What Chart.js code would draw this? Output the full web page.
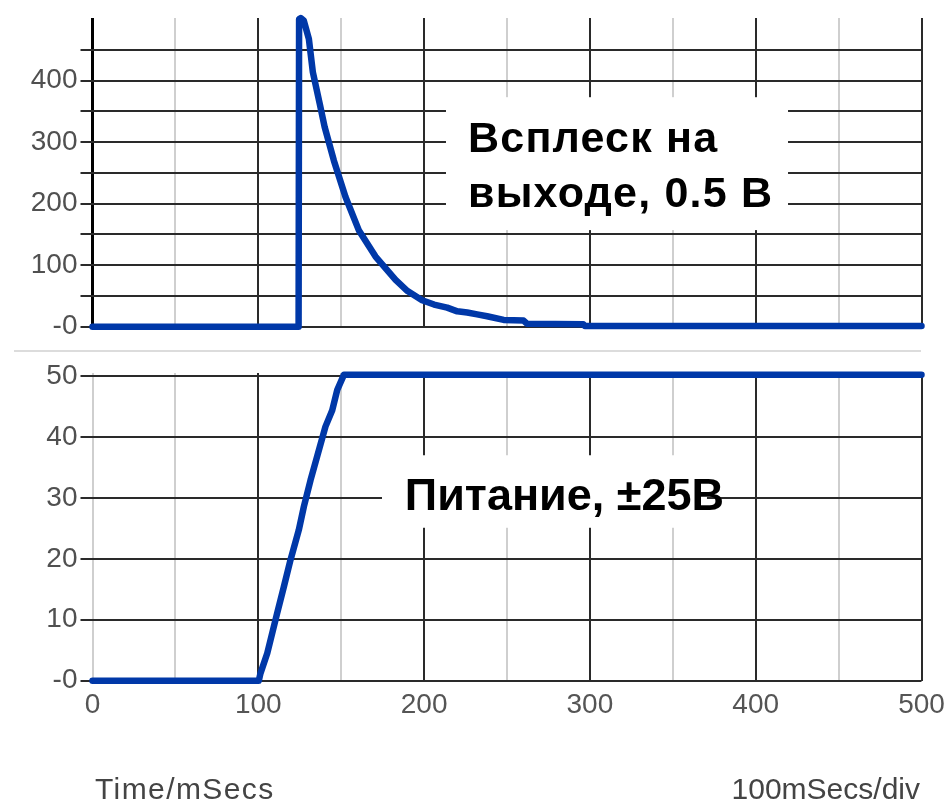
<!DOCTYPE html>
<html>
<head>
<meta charset="utf-8">
<script src="https://cdn.jsdelivr.net/npm/chart.js@4.4.1/dist/chart.umd.min.js"></script>
<style>
  html, body { margin: 0; padding: 0; background: #fff; }
  body { width: 946px; height: 805px; position: relative; overflow: hidden; }
  #wrapTop { position: absolute; left: 0; top: 0; width: 946px; height: 345px; }
  #wrapBot { position: absolute; left: 0; top: 355px; width: 946px; height: 450px; }
  #sep { position: absolute; left: 14px; top: 350px; width: 907px; height: 2px; background: #dcdcdc; }
  .foot { position: absolute; top: 772px; font-family: "Liberation Sans", Arial, sans-serif; font-size: 30px; color: #444; white-space: nowrap; }
  #footL { left: 95px; letter-spacing: 1.4px; }
  #footR { right: 26px; }
</style>
</head>
<body>
<div id="wrapTop"><canvas id="top"></canvas></div>
<div id="sep"></div>
<div id="wrapBot"><canvas id="bot"></canvas></div>
<div class="foot" id="footL">Time/mSecs</div>
<div class="foot" id="footR">100mSecs/div</div>
<script>
// ---- data ----
const spikeTime  = [0, 124.3, 124.6, 125.6, 127.4, 130.5, 132.9, 137.1, 140.0, 145.6, 152.6, 160.6, 170.7, 182.8, 190.0, 198.8, 206.0, 213.9, 220.0, 226.0, 232.0, 238.0, 248.0, 260.0, 262.0, 296.0, 297.0, 500];
const spikeValue = [0,   0,     500,   502,   498,   468,   414,   362,   325,   270,   211,   157,   114,   76,    58,    43,    36,    31,    25,    23,    20,    17,    11,    10,    5,     4,     1,     1];

const supplyTime  = [0, 100.3, 101.3, 105.4, 111.4, 115.4, 119.4, 124.4, 127.5, 131.5, 135.5, 140.5, 144.6, 147.6, 151.6, 500];
const supplyValue = [0, 0,     1.2,   4.5,   11.1,  15.4,  19.8,  24.7,  28.6,  32.9,  36.8,  41.7,  44.4,  47.7,  50.2,  50.2];

// grid positions and tick labels
const xTicks      = [0, 50, 100, 150, 200, 250, 300, 350, 400, 450, 500];
const xTickLabels = { 0: '0', 100: '100', 200: '200', 300: '300', 400: '400', 500: '500' };
const topYTicks   = [0, 50, 100, 150, 200, 250, 300, 350, 400, 450];
const topYLabels  = { 0: '-0', 100: '100', 200: '200', 300: '300', 400: '400' };
const botYTicks   = [0, 10, 20, 30, 40, 50];
const botYLabels  = { 0: '-0', 10: '10', 20: '20', 30: '30', 40: '40', 50: '50' };

const topNote = ['Всплеск на', 'выходе, 0.5 В'];
const botNote = ['Питание, ±25В'];

// ---- styling ----
const LINE_BLUE = '#0038a8';
const DARK = '#2a2a2a';
const LIGHT = '#cfcfcf';
const TICK_FONT = { family: '"Liberation Sans", Arial, sans-serif', size: 28 };
const NOTE_FAMILY = '"Liberation Sans", Arial, sans-serif';

const noteBoxPlugin = {
  id: 'noteBox',
  beforeDatasetsDraw(chart, args, opts) {
    if (!opts || !opts.box) return;
    const { ctx, scales } = chart;
    const xs = scales.x, ys = scales.y;
    const x0 = xs.getPixelForValue(opts.box[0]);
    const x1 = xs.getPixelForValue(opts.box[1]);
    const y0 = ys.getPixelForValue(opts.box[2]);
    const y1 = ys.getPixelForValue(opts.box[3]);
    ctx.save();
    ctx.fillStyle = '#ffffff';
    ctx.fillRect(x0, y0, x1 - x0, y1 - y0);
    ctx.fillStyle = '#000';
    ctx.font = 'bold ' + opts.size + 'px ' + NOTE_FAMILY;
    if ('letterSpacing' in ctx) ctx.letterSpacing = (opts.spacing || 0) + 'px';
    ctx.textBaseline = 'alphabetic';
    ctx.textAlign = 'left';
    const tx = xs.getPixelForValue(opts.textX);
    opts.lines.forEach((ln, i) => {
      ctx.fillText(ln, tx, ys.getPixelForValue(opts.textY[i]));
    });
    ctx.restore();
  }
};

function toPoints(xsArr, ysArr) { return xsArr.map((x, i) => ({ x: x, y: ysArr[i] })); }

function xScale(showLabels, zeroColor, zeroWidth, height) {
  return {
    type: 'linear', min: 0, max: 500,
    border: { display: false },
    afterBuildTicks: s => { s.ticks = xTicks.map(v => ({ value: v })); },
    grid: {
      drawTicks: false,
      color: c => (c.tick.value === 0 ? zeroColor : (c.tick.value % 100 === 0 ? DARK : LIGHT)),
      lineWidth: c => (c.tick.value === 0 ? zeroWidth : 2)
    },
    ticks: {
      display: showLabels, autoSkip: false, maxRotation: 0,
      padding: 8, color: '#555', font: TICK_FONT,
      callback: v => (xTickLabels[v] !== undefined ? xTickLabels[v] : '')
    },
    afterFit: s => { s.height = height; s.paddingLeft = 0; s.paddingRight = 0; }
  };
}

function yScale(max, tickVals, labels) {
  return {
    type: 'linear', min: 0, max: max,
    border: { display: false },
    afterBuildTicks: s => { s.ticks = tickVals.map(v => ({ value: v })); },
    grid: { drawTicks: true, tickLength: 12, color: DARK, lineWidth: 2 },
    ticks: {
      autoSkip: false, padding: 3, color: '#505050', font: TICK_FONT,
      callback: v => (labels[v] !== undefined ? labels[v] : '')
    },
    afterFit: s => { s.width = 92.5; s.paddingTop = 0; s.paddingBottom = 0; }
  };
}

const common = {
  responsive: false, animation: false, maintainAspectRatio: false,
  plugins: { legend: { display: false }, tooltip: { enabled: false } },
  elements: { point: { radius: 0 }, line: { tension: 0 } }
};

function setupCanvas(id, w, h) {
  const c = document.getElementById(id);
  c.width = w; c.height = h; c.style.width = w + 'px'; c.style.height = h + 'px';
  return c;
}

const lineStyle = { borderColor: LINE_BLUE, borderWidth: 6.5, clip: false, borderJoinStyle: 'round', borderCapStyle: 'round' };

new Chart(setupCanvas('top', 946, 345), {
  type: 'line',
  data: { datasets: [Object.assign({ data: toPoints(spikeTime, spikeValue) }, lineStyle)] },
  options: Object.assign({}, common, {
    layout: { autoPadding: false, padding: { left: 0, right: 24.5, top: 18, bottom: 0 } },
    scales: { x: xScale(false, '#000', 3, 18.3), y: yScale(502, topYTicks, topYLabels) },
    plugins: Object.assign({}, common.plugins, {
      noteBox: { box: [213.2, 419.5, 373.2, 157.1], lines: topNote, textX: 226.5, textY: [283.8, 194.5], size: 43, spacing: 1.2 }
    })
  }),
  plugins: [noteBoxPlugin]
});

new Chart(setupCanvas('bot', 946, 450), {
  type: 'line',
  data: { datasets: [Object.assign({ data: toPoints(supplyTime, supplyValue) }, lineStyle)] },
  options: Object.assign({}, common, {
    layout: { autoPadding: false, padding: { left: 0, right: 24.5, top: 18, bottom: 0 } },
    scales: { x: xScale(true, LIGHT, 2, 124.3), y: yScale(50.5, botYTicks, botYLabels) },
    plugins: Object.assign({}, common.plugins, {
      noteBox: { box: [174.6, 370.6, 37.0, 25.1], lines: botNote, textX: 188.4, textY: [28.0], size: 45, spacing: 0 }
    })
  }),
  plugins: [noteBoxPlugin]
});
</script>
</body>
</html>
